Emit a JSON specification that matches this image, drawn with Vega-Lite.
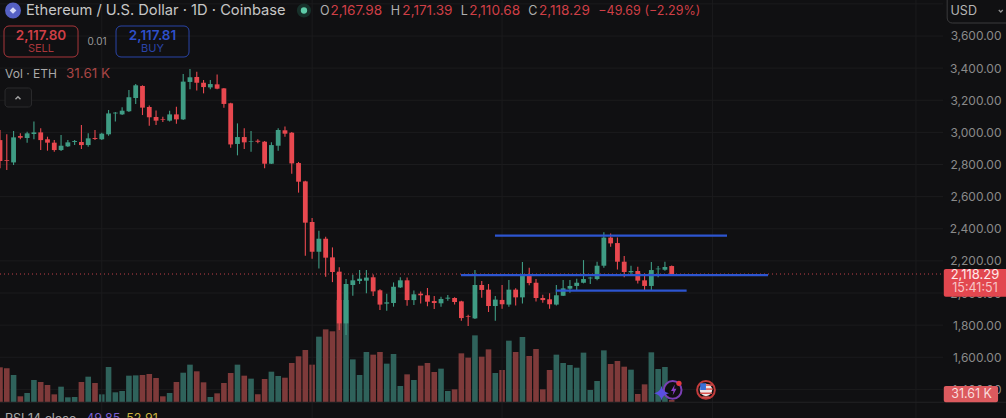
{
"$schema":"https://vega.github.io/schema/vega-lite/v6.json",
"width":1006,"height":418,"autosize":"none","padding":0,"background":"#101012",
"config":{"view":{"stroke":null},"text":{"font":"Inter"},"style":{"guide-label":{"font":"Inter"}}},
"data":{"values":[{"note":"chart furniture"}]},
"datasets":{"candles":[
{"i":0,"open":2952,"high":3015,"low":2776,"close":2822,"volume":548,"dir":"down"},
{"i":1,"open":2828,"high":2988,"low":2766,"close":2824,"volume":532,"dir":"down"},
{"i":2,"open":2813,"high":3008,"low":2797,"close":2969,"volume":427,"dir":"up"},
{"i":3,"open":2977,"high":2994,"low":2957,"close":2967,"volume":90,"dir":"down"},
{"i":4,"open":2965,"high":3004,"low":2936,"close":2994,"volume":142,"dir":"up"},
{"i":5,"open":2990,"high":3067,"low":2957,"close":3000,"volume":348,"dir":"up"},
{"i":6,"open":3000,"high":3025,"low":2890,"close":2952,"volume":316,"dir":"down"},
{"i":7,"open":2957,"high":2973,"low":2886,"close":2936,"volume":269,"dir":"down"},
{"i":8,"open":2936,"high":2952,"low":2880,"close":2890,"volume":121,"dir":"down"},
{"i":9,"open":2890,"high":2984,"low":2884,"close":2917,"volume":242,"dir":"up"},
{"i":10,"open":2913,"high":2952,"low":2909,"close":2938,"volume":74,"dir":"up"},
{"i":11,"open":2940,"high":2952,"low":2921,"close":2946,"volume":79,"dir":"up"},
{"i":12,"open":2940,"high":3046,"low":2896,"close":2921,"volume":316,"dir":"down"},
{"i":13,"open":2921,"high":2994,"low":2911,"close":2963,"volume":400,"dir":"up"},
{"i":14,"open":2965,"high":3015,"low":2952,"close":2959,"volume":300,"dir":"down"},
{"i":15,"open":2957,"high":2998,"low":2952,"close":2992,"volume":121,"dir":"up"},
{"i":16,"open":2988,"high":3139,"low":2979,"close":3118,"volume":553,"dir":"up"},
{"i":17,"open":3118,"high":3127,"low":3067,"close":3123,"volume":153,"dir":"up"},
{"i":18,"open":3112,"high":3156,"low":3108,"close":3135,"volume":174,"dir":"up"},
{"i":19,"open":3131,"high":3264,"low":3127,"close":3218,"volume":416,"dir":"up"},
{"i":20,"open":3214,"high":3301,"low":3177,"close":3293,"volume":421,"dir":"up"},
{"i":21,"open":3289,"high":3293,"low":3108,"close":3154,"volume":427,"dir":"down"},
{"i":22,"open":3158,"high":3168,"low":3042,"close":3094,"volume":442,"dir":"down"},
{"i":23,"open":3096,"high":3137,"low":3046,"close":3073,"volume":379,"dir":"down"},
{"i":24,"open":3081,"high":3098,"low":3065,"close":3077,"volume":90,"dir":"down"},
{"i":25,"open":3073,"high":3135,"low":3067,"close":3112,"volume":142,"dir":"up"},
{"i":26,"open":3112,"high":3160,"low":3054,"close":3081,"volume":316,"dir":"down"},
{"i":27,"open":3081,"high":3363,"low":3077,"close":3316,"volume":463,"dir":"up"},
{"i":28,"open":3314,"high":3394,"low":3268,"close":3343,"volume":590,"dir":"up"},
{"i":29,"open":3345,"high":3378,"low":3260,"close":3309,"volume":485,"dir":"down"},
{"i":30,"open":3309,"high":3326,"low":3243,"close":3282,"volume":311,"dir":"down"},
{"i":31,"open":3280,"high":3326,"low":3268,"close":3301,"volume":79,"dir":"up"},
{"i":32,"open":3299,"high":3361,"low":3268,"close":3272,"volume":137,"dir":"down"},
{"i":33,"open":3274,"high":3276,"low":3154,"close":3177,"volume":300,"dir":"down"},
{"i":34,"open":3181,"high":3185,"low":2905,"close":2925,"volume":458,"dir":"down"},
{"i":35,"open":2928,"high":3056,"low":2857,"close":2971,"volume":590,"dir":"up"},
{"i":36,"open":2971,"high":3025,"low":2896,"close":2938,"volume":416,"dir":"down"},
{"i":37,"open":2942,"high":3008,"low":2880,"close":2946,"volume":369,"dir":"up"},
{"i":38,"open":2948,"high":2957,"low":2932,"close":2942,"volume":121,"dir":"down"},
{"i":39,"open":2942,"high":2946,"low":2776,"close":2805,"volume":363,"dir":"down"},
{"i":40,"open":2805,"high":2938,"low":2803,"close":2921,"volume":479,"dir":"up"},
{"i":41,"open":2917,"high":3025,"low":2886,"close":3015,"volume":411,"dir":"up"},
{"i":42,"open":3013,"high":3036,"low":2973,"close":2992,"volume":384,"dir":"down"},
{"i":43,"open":2998,"high":3002,"low":2743,"close":2807,"volume":616,"dir":"down"},
{"i":44,"open":2809,"high":2816,"low":2625,"close":2693,"volume":722,"dir":"down"},
{"i":45,"open":2695,"high":2699,"low":2232,"close":2438,"volume":822,"dir":"down"},
{"i":46,"open":2442,"high":2467,"low":2214,"close":2257,"volume":590,"dir":"down"},
{"i":47,"open":2257,"high":2388,"low":2152,"close":2338,"volume":1032,"dir":"up"},
{"i":48,"open":2338,"high":2351,"low":2102,"close":2220,"volume":1148,"dir":"down"},
{"i":49,"open":2222,"high":2284,"low":2068,"close":2131,"volume":1117,"dir":"down"},
{"i":50,"open":2133,"high":2160,"low":1770,"close":1811,"volume":1612,"dir":"down"},
{"i":51,"open":1811,"high":2087,"low":1739,"close":2056,"volume":1612,"dir":"up"},
{"i":52,"open":2050,"high":2114,"low":1983,"close":2079,"volume":674,"dir":"up"},
{"i":53,"open":2075,"high":2143,"low":2056,"close":2089,"volume":427,"dir":"up"},
{"i":54,"open":2077,"high":2143,"low":1998,"close":2096,"volume":790,"dir":"up"},
{"i":55,"open":2098,"high":2116,"low":1981,"close":2010,"volume":748,"dir":"down"},
{"i":56,"open":2017,"high":2023,"low":1894,"close":1928,"volume":790,"dir":"down"},
{"i":57,"open":1934,"high":1996,"low":1890,"close":1942,"volume":606,"dir":"up"},
{"i":58,"open":1938,"high":2066,"low":1915,"close":2039,"volume":758,"dir":"up"},
{"i":59,"open":2035,"high":2098,"low":2031,"close":2079,"volume":253,"dir":"up"},
{"i":60,"open":2079,"high":2096,"low":1921,"close":1956,"volume":437,"dir":"down"},
{"i":61,"open":1956,"high":2015,"low":1925,"close":1992,"volume":348,"dir":"up"},
{"i":62,"open":1996,"high":2010,"low":1934,"close":1986,"volume":574,"dir":"down"},
{"i":63,"open":1986,"high":2031,"low":1917,"close":1946,"volume":616,"dir":"down"},
{"i":64,"open":1950,"high":1981,"low":1900,"close":1938,"volume":474,"dir":"down"},
{"i":65,"open":1936,"high":1977,"low":1915,"close":1963,"volume":527,"dir":"up"},
{"i":66,"open":1965,"high":1988,"low":1952,"close":1971,"volume":174,"dir":"up"},
{"i":67,"open":1969,"high":1973,"low":1928,"close":1944,"volume":200,"dir":"down"},
{"i":68,"open":1948,"high":1952,"low":1828,"close":1844,"volume":769,"dir":"down"},
{"i":69,"open":1855,"high":1865,"low":1795,"close":1851,"volume":701,"dir":"down"},
{"i":70,"open":1842,"high":2143,"low":1838,"close":2050,"volume":1053,"dir":"up"},
{"i":71,"open":2050,"high":2075,"low":1971,"close":2019,"volume":716,"dir":"down"},
{"i":72,"open":2021,"high":2056,"low":1882,"close":1919,"volume":832,"dir":"down"},
{"i":73,"open":1919,"high":1981,"low":1828,"close":1959,"volume":458,"dir":"up"},
{"i":74,"open":1957,"high":2050,"low":1902,"close":1930,"volume":506,"dir":"down"},
{"i":75,"open":1928,"high":2081,"low":1915,"close":2021,"volume":969,"dir":"up"},
{"i":76,"open":2021,"high":2029,"low":1923,"close":1973,"volume":790,"dir":"down"},
{"i":77,"open":1973,"high":2193,"low":1934,"close":2118,"volume":1027,"dir":"up"},
{"i":78,"open":2118,"high":2158,"low":2048,"close":2062,"volume":727,"dir":"down"},
{"i":79,"open":2064,"high":2087,"low":1948,"close":1969,"volume":837,"dir":"down"},
{"i":80,"open":1969,"high":1990,"low":1940,"close":1956,"volume":200,"dir":"down"},
{"i":81,"open":1961,"high":1998,"low":1902,"close":1930,"volume":506,"dir":"down"},
{"i":82,"open":1928,"high":2050,"low":1923,"close":1986,"volume":748,"dir":"up"},
{"i":83,"open":1983,"high":2081,"low":1981,"close":2029,"volume":616,"dir":"up"},
{"i":84,"open":2027,"high":2081,"low":2002,"close":2044,"volume":585,"dir":"up"},
{"i":85,"open":2044,"high":2089,"low":2019,"close":2064,"volume":542,"dir":"up"},
{"i":86,"open":2064,"high":2205,"low":2060,"close":2087,"volume":780,"dir":"up"},
{"i":87,"open":2091,"high":2102,"low":2056,"close":2096,"volume":190,"dir":"up"},
{"i":88,"open":2087,"high":2195,"low":2079,"close":2170,"volume":332,"dir":"up"},
{"i":89,"open":2170,"high":2378,"low":2158,"close":2345,"volume":816,"dir":"up"},
{"i":90,"open":2345,"high":2371,"low":2288,"close":2309,"volume":600,"dir":"down"},
{"i":91,"open":2311,"high":2345,"low":2147,"close":2195,"volume":648,"dir":"down"},
{"i":92,"open":2195,"high":2230,"low":2098,"close":2131,"volume":558,"dir":"down"},
{"i":93,"open":2129,"high":2170,"low":2116,"close":2137,"volume":511,"dir":"up"},
{"i":94,"open":2137,"high":2164,"low":2060,"close":2077,"volume":126,"dir":"down"},
{"i":95,"open":2079,"high":2122,"low":2019,"close":2044,"volume":279,"dir":"down"},
{"i":96,"open":2044,"high":2193,"low":2019,"close":2143,"volume":785,"dir":"up"},
{"i":97,"open":2148,"high":2168,"low":2098,"close":2152,"volume":521,"dir":"up"},
{"i":98,"open":2145,"high":2195,"low":2139,"close":2162,"volume":553,"dir":"up"},
{"i":99,"open":2167.98,"high":2171.39,"low":2110.68,"close":2118.29,"volume":31.61,"dir":"down"}
]},
"layer":[
{"data":{"values":[{"p":1400},{"p":1600},{"p":1800},{"p":2000},{"p":2200},{"p":2400},{"p":2600},{"p":2800},{"p":3000},{"p":3200},{"p":3400},{"p":3600},{"p":3800}]},
 "mark":{"type":"rule","color":"#1b1b1d","strokeWidth":1},
 "encoding":{"x":{"datum":0,"type":"quantitative","axis":null,"scale":{"domain":[0,148.27],"nice":false,"zero":false,"padding":0}},"x2":{"datum":139},
  "y":{"field":"p","type":"quantitative","title":null,"scale":{"domain":[1222,3824.1],"nice":false,"zero":false},
   "axis":{"orient":"right","values":[1400,1600,1800,2000,2200,2400,2600,2800,3000,3200,3400,3600],"format":",.2f","domain":false,"ticks":false,"grid":false,"labelPadding":-5,"labelAlign":"right","labelColor":"#8a8a8a","labelFontSize":12,"labelFont":"Inter","labelOverlap":false,"labelBound":false,"labelFlush":false,"title":null}}}},
{"layer":[
{"data":{"name":"candles"},"mark":{"type":"bar","size":5.6,"orient":"vertical"},
 "encoding":{"x":{"field":"i","type":"quantitative","axis":null},
  "y":{"field":"volume","type":"quantitative","axis":null,"stack":null,"scale":{"domain":[-252.8,6351.6],"nice":false,"zero":false}},
  "color":{"field":"dir","type":"nominal","legend":null,"scale":{"domain":["up","down"],"range":["#2f625b","#7e3a3a"]}}}}
]},
{"layer":[
{"data":{"values":[{"m":15},{"m":46},{"m":74},{"m":105},{"m":135}]},
 "mark":{"type":"rule","color":"#1b1b1d","strokeWidth":1},
 "encoding":{"x":{"field":"m","type":"quantitative","axis":null}}},
{"mark":{"type":"rule","color":"#222224","strokeWidth":1},
 "encoding":{"y":{"datum":1320,"type":"quantitative","axis":null,"scale":{"domain":[1222,3824.1],"nice":false,"zero":false}}}},
{"mark":{"type":"rule","color":"#c0404a","strokeWidth":1,"strokeDash":[1,3]},
 "encoding":{"x":{"datum":0,"type":"quantitative","axis":null},"x2":{"datum":139},"y":{"datum":2118.29,"type":"quantitative","axis":null}}},
{"data":{"name":"candles"},"mark":{"type":"rule","strokeWidth":1.1},
 "encoding":{"x":{"field":"i","type":"quantitative","axis":null},"y":{"field":"high","type":"quantitative","axis":null},"y2":{"field":"low"},
  "color":{"field":"dir","type":"nominal","legend":null,"scale":{"domain":["up","down"],"range":["#3f9c84","#e8484f"]}}}},
{"data":{"name":"candles"},"mark":{"type":"bar","size":4.8,"orient":"vertical"},
 "encoding":{"x":{"field":"i","type":"quantitative","axis":null},"y":{"field":"open","type":"quantitative","axis":null},"y2":{"field":"close"},
  "color":{"field":"dir","type":"nominal","legend":null}}}
]},
{"layer":[
{"data":{"values":[{"from":72.95,"to":107.15,"p":2357},{"from":67.94,"to":113.2,"p":2112},{"from":81.9,"to":101.2,"p":2015}]},
 "mark":{"type":"rule","color":"#2d55d0","strokeWidth":2.2},
 "encoding":{"x":{"field":"from","type":"quantitative","axis":null},"x2":{"field":"to"},"y":{"field":"p","type":"quantitative","axis":null,"scale":{"domain":[1222,3824.1],"nice":false,"zero":false}}}},
{"mark":{"type":"rect","fill":"#e2474f","cornerRadius":2},"encoding":{"x":{"datum":139.1,"type":"quantitative","axis":null},"x2":{"datum":149},"y":{"datum":2149.6,"type":"quantitative","axis":null},"y2":{"datum":1977.2}}},
{"mark":{"type":"rect","fill":"#dc5a5e","cornerRadius":2},"encoding":{"x":{"datum":139.1,"type":"quantitative","axis":null},"x2":{"datum":147.1},"y":{"datum":1421.3,"type":"quantitative","axis":null},"y2":{"datum":1320}}},
{"mark":{"type":"text","align":"center","baseline":"middle","fontSize":13,"color":"#ffeaea"},"encoding":{"x":{"datum":143.7,"type":"quantitative","axis":null},"y":{"datum":2112,"type":"quantitative","axis":null},"text":{"value":"2,118.29"}}},
{"mark":{"type":"text","align":"center","baseline":"middle","fontSize":12.5,"color":"#f7c4c6"},"encoding":{"x":{"datum":143.7,"type":"quantitative","axis":null},"y":{"datum":2031.4,"type":"quantitative","axis":null},"text":{"value":"15:41:51"}}},
{"mark":{"type":"text","align":"center","baseline":"middle","fontSize":12.5,"color":"#f9dcdc"},"encoding":{"x":{"datum":143.2,"type":"quantitative","axis":null},"y":{"datum":1371.6,"type":"quantitative","axis":null},"text":{"value":"31.61 K"}}},
{"mark":{"type":"rect","fill":"#101012","stroke":"#3a3a3c","strokeWidth":1,"cornerRadius":5},"encoding":{"x":{"datum":139.6,"type":"quantitative","axis":null},"x2":{"datum":150},"y":{"datum":3860,"type":"quantitative","axis":null},"y2":{"datum":3680.9}}},
{"mark":{"type":"text","align":"left","baseline":"middle","fontSize":12.5,"color":"#b5b5b5"},"encoding":{"x":{"datum":140.1,"type":"quantitative","axis":null},"y":{"datum":3755.6,"type":"quantitative","axis":null},"text":{"value":"USD"}}},
{"mark":{"type":"point","shape":"M-1,-0.5 L0,0.5 L1,-0.5","size":16,"filled":false,"stroke":"#c8c8c8","strokeWidth":1.3},"encoding":{"x":{"datum":147.5,"type":"quantitative","axis":null},"y":{"datum":3755.6,"type":"quantitative","axis":null}}},
{"mark":{"type":"point","shape":"circle","size":254,"filled":true,"color":"#5560c4","opacity":1},"encoding":{"x":{"datum":1.92,"type":"quantitative","axis":null},"y":{"datum":3758.7,"type":"quantitative","axis":null}}},
{"mark":{"type":"point","shape":"diamond","size":45,"filled":true,"color":"#d5d9f7","opacity":1},"encoding":{"x":{"datum":1.92,"type":"quantitative","axis":null},"y":{"datum":3758.7,"type":"quantitative","axis":null}}},
{"mark":{"type":"text","align":"left","baseline":"middle","fontSize":14.7,"color":"#c6c6c6"},"encoding":{"x":{"datum":3.83,"type":"quantitative","axis":null},"y":{"datum":3755.6,"type":"quantitative","axis":null},"text":{"value":"Ethereum / U.S. Dollar · 1D · Coinbase"}}},
{"mark":{"type":"point","shape":"circle","size":200,"filled":true,"color":"#17302a","opacity":1},"encoding":{"x":{"datum":44.8,"type":"quantitative","axis":null},"y":{"datum":3758.7,"type":"quantitative","axis":null}}},
{"mark":{"type":"point","shape":"circle","size":40,"filled":true,"color":"#5ecba8","opacity":1},"encoding":{"x":{"datum":44.8,"type":"quantitative","axis":null},"y":{"datum":3758.7,"type":"quantitative","axis":null}}},
{"mark":{"type":"text","align":"left","baseline":"middle","fontSize":12.5,"color":"#b0b0b0"},"encoding":{"x":{"datum":47.16,"type":"quantitative","axis":null},"y":{"datum":3755.6,"type":"quantitative","axis":null},"text":{"value":"O"}}},
{"mark":{"type":"text","align":"left","baseline":"middle","fontSize":13.6,"color":"#cf3f46"},"encoding":{"x":{"datum":48.7,"type":"quantitative","axis":null},"y":{"datum":3755.6,"type":"quantitative","axis":null},"text":{"value":"2,167.98"}}},
{"mark":{"type":"text","align":"left","baseline":"middle","fontSize":12.5,"color":"#b0b0b0"},"encoding":{"x":{"datum":57.6,"type":"quantitative","axis":null},"y":{"datum":3755.6,"type":"quantitative","axis":null},"text":{"value":"H"}}},
{"mark":{"type":"text","align":"left","baseline":"middle","fontSize":13.6,"color":"#cf3f46"},"encoding":{"x":{"datum":59.3,"type":"quantitative","axis":null},"y":{"datum":3755.6,"type":"quantitative","axis":null},"text":{"value":"2,171.39"}}},
{"mark":{"type":"text","align":"left","baseline":"middle","fontSize":12.5,"color":"#b0b0b0"},"encoding":{"x":{"datum":67.9,"type":"quantitative","axis":null},"y":{"datum":3755.6,"type":"quantitative","axis":null},"text":{"value":"L"}}},
{"mark":{"type":"text","align":"left","baseline":"middle","fontSize":13.6,"color":"#cf3f46"},"encoding":{"x":{"datum":69.17,"type":"quantitative","axis":null},"y":{"datum":3755.6,"type":"quantitative","axis":null},"text":{"value":"2,110.68"}}},
{"mark":{"type":"text","align":"left","baseline":"middle","fontSize":12.5,"color":"#b0b0b0"},"encoding":{"x":{"datum":77.87,"type":"quantitative","axis":null},"y":{"datum":3755.6,"type":"quantitative","axis":null},"text":{"value":"C"}}},
{"mark":{"type":"text","align":"left","baseline":"middle","fontSize":13.6,"color":"#cf3f46"},"encoding":{"x":{"datum":79.44,"type":"quantitative","axis":null},"y":{"datum":3755.6,"type":"quantitative","axis":null},"text":{"value":"2,118.29"}}},
{"mark":{"type":"text","align":"left","baseline":"middle","fontSize":12.5,"color":"#cf3f46"},"encoding":{"x":{"datum":88.18,"type":"quantitative","axis":null},"y":{"datum":3755.6,"type":"quantitative","axis":null},"text":{"value":"−49.69 (−2.29%)"}}},
{"mark":{"type":"rect","fill":"transparent","stroke":"#a8363b","strokeWidth":1,"cornerRadius":5},"encoding":{"x":{"datum":0.59,"type":"quantitative","axis":null},"x2":{"datum":11.5},"y":{"datum":3662.3,"type":"quantitative","axis":null},"y2":{"datum":3469.3}}},
{"mark":{"type":"rect","fill":"transparent","stroke":"#2a45a8","strokeWidth":1,"cornerRadius":5},"encoding":{"x":{"datum":17.1,"type":"quantitative","axis":null},"x2":{"datum":27.86},"y":{"datum":3662.3,"type":"quantitative","axis":null},"y2":{"datum":3469.3}}},
{"mark":{"type":"text","align":"center","baseline":"middle","fontSize":13.5,"fontWeight":600,"color":"#cf3f46"},"encoding":{"x":{"datum":6.04,"type":"quantitative","axis":null},"y":{"datum":3603.1,"type":"quantitative","axis":null},"text":{"value":"2,117.80"}}},
{"mark":{"type":"text","align":"center","baseline":"middle","fontSize":11,"color":"#a8363b"},"encoding":{"x":{"datum":6.04,"type":"quantitative","axis":null},"y":{"datum":3519,"type":"quantitative","axis":null},"text":{"value":"SELL"}}},
{"mark":{"type":"text","align":"center","baseline":"middle","fontSize":10,"color":"#9a9a9a"},"encoding":{"x":{"datum":14.3,"type":"quantitative","axis":null},"y":{"datum":3562.7,"type":"quantitative","axis":null},"text":{"value":"0.01"}}},
{"mark":{"type":"text","align":"center","baseline":"middle","fontSize":13.5,"fontWeight":600,"color":"#2e4fc9"},"encoding":{"x":{"datum":22.48,"type":"quantitative","axis":null},"y":{"datum":3603.1,"type":"quantitative","axis":null},"text":{"value":"2,117.81"}}},
{"mark":{"type":"text","align":"center","baseline":"middle","fontSize":11,"color":"#2a44a8"},"encoding":{"x":{"datum":22.48,"type":"quantitative","axis":null},"y":{"datum":3519,"type":"quantitative","axis":null},"text":{"value":"BUY"}}},
{"mark":{"type":"text","align":"left","baseline":"middle","fontSize":12,"color":"#a9a9a9"},"encoding":{"x":{"datum":0.74,"type":"quantitative","axis":null},"y":{"datum":3363.5,"type":"quantitative","axis":null},"text":{"value":"Vol · ETH"}}},
{"mark":{"type":"text","align":"left","baseline":"middle","fontSize":13.5,"color":"#a84545"},"encoding":{"x":{"datum":9.73,"type":"quantitative","axis":null},"y":{"datum":3363.5,"type":"quantitative","axis":null},"text":{"value":"31.61 K"}}},
{"mark":{"type":"rect","fill":"#141416","stroke":"#2b2b2d","strokeWidth":1,"cornerRadius":3},"encoding":{"x":{"datum":0.74,"type":"quantitative","axis":null},"x2":{"datum":4.64},"y":{"datum":3276.3,"type":"quantitative","axis":null},"y2":{"datum":3158}}},
{"mark":{"type":"point","shape":"M-1,0.5 L0,-0.5 L1,0.5","size":25,"filled":false,"stroke":"#e0e0e0","strokeWidth":1.4},"encoding":{"x":{"datum":2.65,"type":"quantitative","axis":null},"y":{"datum":3214,"type":"quantitative","axis":null}}},
{"mark":{"type":"text","align":"left","baseline":"middle","fontSize":12.5,"color":"#a8a8a8"},"encoding":{"x":{"datum":0.74,"type":"quantitative","axis":null},"y":{"datum":1218.4,"type":"quantitative","axis":null},"text":{"value":"RSI 14 close"}}},
{"mark":{"type":"text","align":"left","baseline":"middle","fontSize":12.5,"color":"#7b5fd0"},"encoding":{"x":{"datum":12.7,"type":"quantitative","axis":null},"y":{"datum":1218.4,"type":"quantitative","axis":null},"text":{"value":"49.85"}}},
{"mark":{"type":"text","align":"left","baseline":"middle","fontSize":12.5,"color":"#c8b040"},"encoding":{"x":{"datum":18.6,"type":"quantitative","axis":null},"y":{"datum":1218.4,"type":"quantitative","axis":null},"text":{"value":"52.91"}}},
{"mark":{"type":"point","shape":"circle","size":314,"filled":true,"fill":"#101012","stroke":"#7b3fb5","strokeWidth":2,"opacity":1},"encoding":{"x":{"datum":99.14,"type":"quantitative","axis":null},"y":{"datum":1396.5,"type":"quantitative","axis":null}}},
{"mark":{"type":"point","shape":"M0.2,-1 L-0.5,0.2 L-0.05,0.2 L-0.2,1 L0.5,-0.2 L0.05,-0.2 Z","size":120,"filled":true,"color":"#8a3fc9","opacity":1},"encoding":{"x":{"datum":99.3,"type":"quantitative","axis":null},"y":{"datum":1396.5,"type":"quantitative","axis":null}}},
{"mark":{"type":"point","shape":"circle","size":28,"filled":true,"color":"#e0393f","opacity":1},"encoding":{"x":{"datum":100.07,"type":"quantitative","axis":null},"y":{"datum":1438,"type":"quantitative","axis":null}}},
{"mark":{"type":"point","shape":"M0,-1 Q0.15,-0.15 1,0 Q0.15,0.15 0,1 Q-0.15,0.15 -1,0 Q-0.15,-0.15 0,-1 Z","size":220,"filled":true,"color":"#5a4fe0","opacity":1},"encoding":{"x":{"datum":97.5,"type":"quantitative","axis":null},"y":{"datum":1376,"type":"quantitative","axis":null}}},
{"mark":{"type":"point","shape":"circle","size":314,"filled":true,"fill":"#101012","stroke":"#c23b3b","strokeWidth":2,"opacity":1},"encoding":{"x":{"datum":104.05,"type":"quantitative","axis":null},"y":{"datum":1396.5,"type":"quantitative","axis":null}}},
{"mark":{"type":"point","shape":"circle","size":154,"filled":true,"color":"#efe6e6","opacity":1},"encoding":{"x":{"datum":104.05,"type":"quantitative","axis":null},"y":{"datum":1396.5,"type":"quantitative","axis":null}}},
{"data":{"values":[{"from":104.05,"to":105,"p":1427},{"from":104.05,"to":105.05,"p":1402},{"from":103.2,"to":104.95,"p":1376},{"from":103.5,"to":104.6,"p":1352}]},
 "mark":{"type":"rule","color":"#d9534f","strokeWidth":1.5},
 "encoding":{"x":{"field":"from","type":"quantitative","axis":null},"x2":{"field":"to"},"y":{"field":"p","type":"quantitative","axis":null}}},
{"mark":{"type":"rect","fill":"#3a6fd8"},"encoding":{"x":{"datum":103.2,"type":"quantitative","axis":null},"x2":{"datum":104.05},"y":{"datum":1438,"type":"quantitative","axis":null},"y2":{"datum":1396.5}}}
]}
],
"resolve":{"scale":{"y":"independent","color":"independent"}}
}
